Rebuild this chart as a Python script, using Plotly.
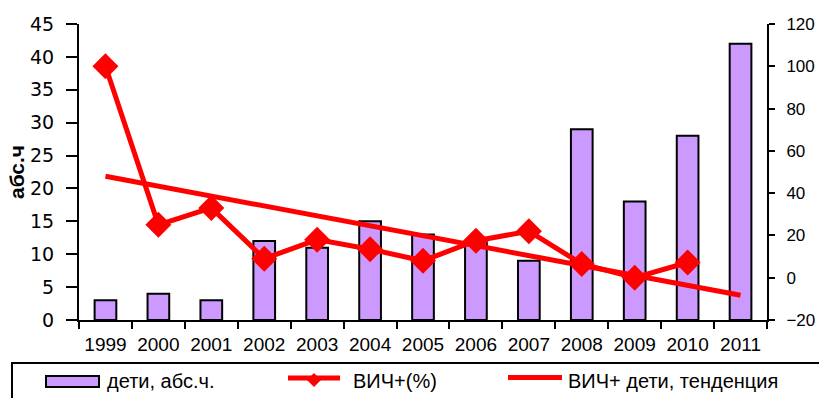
import plotly.graph_objects as go

# ---- data ----
years = ["1999", "2000", "2001", "2002", "2003", "2004", "2005",
         "2006", "2007", "2008", "2009", "2010", "2011"]
children_abs = [3, 4, 3, 12, 11, 15, 13, 12, 9, 29, 18, 28, 42]          # left axis, bars
hiv_years = years[:12]
hiv_percent = [100, 25, 33, 9, 18, 13.5, 8, 17.5, 22, 6.5, 0, 7.2]        # right axis, line
trend_years = ["1999", "2011"]
trend_values = [48, -8.3]                                                 # right axis, trend

left_ticks = list(range(0, 46, 5))
right_ticks = list(range(-20, 121, 20))

bar_name = "дети, абс.ч."
line_name = "ВИЧ+(%)"
trend_name = "ВИЧ+ дети, тенденция"
y_title = "абс.ч"

# ---- layout geometry (pixels) ----
W, H = 819, 398
L, R, T, B = 79, 52, 24, 78
PW, PH = W - L - R, H - T - B


def px(xp):
    return (xp - L) / PW


def py(yp):
    return (H - B - yp) / PH


ARIAL = "Liberation Sans, Arial, sans-serif"
WIDE = "DejaVu Sans, Verdana, sans-serif"
RED = "#FF0000"
VIOLET = "#CC99FF"

fig = go.Figure()
fig.add_trace(go.Bar(x=years, y=children_abs, name=bar_name,
                     marker=dict(color=VIOLET, line=dict(color="black", width=2)),
                     yaxis="y", showlegend=False))
fig.add_trace(go.Scatter(x=trend_years, y=trend_values, name=trend_name, mode="lines",
                         line=dict(color=RED, width=5), yaxis="y2", showlegend=False))
fig.add_trace(go.Scatter(x=hiv_years, y=hiv_percent, name=line_name, mode="lines+markers",
                         line=dict(color=RED, width=5),
                         marker=dict(symbol="diamond", size=20, color=RED),
                         yaxis="y2", showlegend=False))

axis_common = dict(showgrid=False, zeroline=False, linecolor="black", linewidth=2,
                   tickcolor="black", tickwidth=2, showline=True, automargin=False)

fig.update_layout(
    width=W, height=H,
    margin=dict(l=L, r=R, t=T, b=B, pad=0, autoexpand=False),
    paper_bgcolor="white", plot_bgcolor="white",
    bargap=0.59,
    xaxis=dict(type="category", range=[-0.5, 12.5], tickson="boundaries",
               ticks="outside", ticklen=7, tickangle=0, ticklabelstandoff=6,
               tickfont=dict(family=ARIAL, size=19, color="black"), **axis_common),
    yaxis=dict(range=[0, 45], tickvals=left_ticks, ticks="outside", ticklen=11,
               ticklabelstandoff=8,
               tickfont=dict(family=WIDE, size=19, color="black"),
               title=dict(text="<b>" + y_title + "</b>", standoff=0,
                          font=dict(family=ARIAL, size=21, color="black")),
               **axis_common),
    yaxis2=dict(range=[-20, 120], tickvals=right_ticks, overlaying="y", side="right",
                anchor="x", ticks="outside", ticklen=6, ticklabelstandoff=8,
                tickfont=dict(family=ARIAL, size=17, color="black"), **axis_common),
    yaxis3=dict(range=[0, 45], tickvals=left_ticks, overlaying="y", side="left",
                anchor="x", ticks="inside", ticklen=4, tickcolor="black", tickwidth=2,
                showticklabels=False, showgrid=False, zeroline=False, showline=False,
                automargin=False),
    yaxis4=dict(range=[-20, 120], tickvals=right_ticks, overlaying="y", side="right",
                anchor="x", ticks="inside", ticklen=10, tickcolor="black", tickwidth=2,
                showticklabels=False, showgrid=False, zeroline=False, showline=False,
                automargin=False),
    showlegend=False,
)

# ---- legend drawn as a box with swatches and real text ----
shapes = [
    dict(type="rect", xref="paper", yref="paper", x0=px(12), x1=px(830), y0=py(363), y1=py(410),
         line=dict(color="black", width=2), fillcolor="rgba(0,0,0,0)"),
    dict(type="rect", xref="paper", yref="paper", x0=px(46), x1=px(99), y0=py(376), y1=py(387),
         line=dict(color="black", width=2), fillcolor=VIOLET),
    dict(type="line", xref="paper", yref="paper", x0=px(288), x1=px(340), y0=py(378), y1=py(378),
         line=dict(color=RED, width=5)),
    dict(type="path", xref="paper", yref="paper",
         path="M {a},{b} L {c},{d} L {e},{b} L {c},{f} Z".format(
             a=px(307), b=py(380), c=px(314), d=py(373), e=px(321), f=py(387)),
         line=dict(color=RED, width=0), fillcolor=RED),
    dict(type="line", xref="paper", yref="paper", x0=px(508), x1=px(562), y0=py(377.5), y1=py(377.5),
         line=dict(color=RED, width=5)),
]
annotations = []
for name, xpix in [(bar_name, 105), (line_name, 351), (trend_name, 566)]:
    annotations.append(dict(text=name, xref="paper", yref="paper", x=px(xpix), y=py(381),
                            xanchor="left", yanchor="middle", showarrow=False,
                            font=dict(family=ARIAL, size=20, color="black")))
fig.update_layout(shapes=shapes, annotations=annotations)

fig.write_html("out.html")
